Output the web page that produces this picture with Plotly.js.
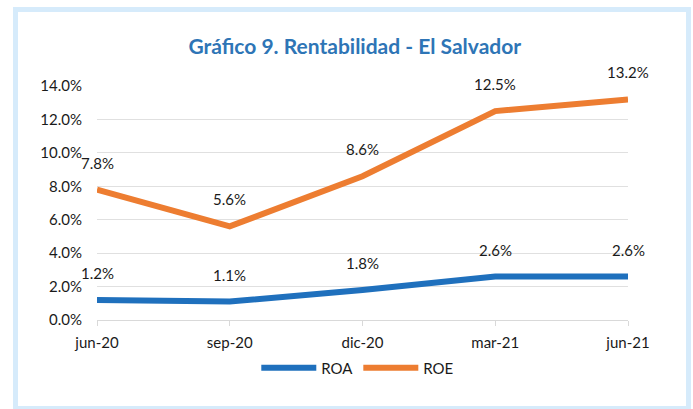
<!DOCTYPE html>
<html>
<head>
<meta charset="utf-8">
<script src="https://cdn.plot.ly/plotly-3.0.1.min.js"></script>
<style>
  html, body { margin: 0; padding: 0; background: #ffffff; overflow: hidden; }
  #frame { position: absolute; left: 13px; top: 7px; width: 668px; height: 394px; border: 5px solid #d6ebfb; box-sizing: content-box; }
  #chart { position: absolute; left: 0; top: 0; width: 693px; height: 409px; }
</style>
</head>
<body>
<div id="frame"></div>
<div id="chart"></div>
<script>
const categories = ["jun-20", "sep-20", "dic-20", "mar-21", "jun-21"];
const roa = [1.2, 1.1, 1.8, 2.6, 2.6];
const roe = [7.8, 5.6, 8.6, 12.5, 13.2];
const yTickVals = [0, 2, 4, 6, 8, 10, 12, 14];
const yTickText = ["0.0%", "2.0%", "4.0%", "6.0%", "8.0%", "10.0%", "12.0%", "14.0%"];

const FONT = "Lato, 'Open Sans', sans-serif";
const BLUE = "#1f70bd";
const ORANGE = "#ed7d31";

const fmt = v => v.toFixed(1) + "%";

const traces = [
  { x: categories, y: roa, name: "ROA", type: "scatter", mode: "lines",
    line: { color: BLUE, width: 6 }, hoverinfo: "skip" },
  { x: categories, y: roe, name: "ROE", type: "scatter", mode: "lines",
    line: { color: ORANGE, width: 6 }, hoverinfo: "skip" }
];

const annotations = [];
[roa, roe].forEach(series => {
  series.forEach((v, i) => {
    annotations.push({ x: categories[i], y: v, xref: "x", yref: "y", text: fmt(v),
      showarrow: false, yshift: 27, font: { family: FONT, size: 15, color: "#1a1a1a" } });
  });
});

const layout = {
  width: 693, height: 409,
  margin: { l: 97, r: 65, t: 86, b: 89 },
  paper_bgcolor: "rgba(0,0,0,0)",
  plot_bgcolor: "rgba(0,0,0,0)",
  font: { family: FONT, size: 15, color: "#1a1a1a" },
  title: { text: "<b>Gráfico 9. Rentabilidad - El Salvador</b>", x: 0.512, xanchor: "center", y: 0.885, yanchor: "middle",
    font: { family: FONT, size: 21, color: "#2e75b6" } },
  xaxis: { type: "category", range: [0, 4], showgrid: false, zeroline: false,
    showline: true, linecolor: "#d9d9d9", linewidth: 1,
    ticks: "outside", ticklen: 5, tickcolor: "#d9d9d9", tickwidth: 1,
    ticklabelstandoff: 4,
    tickfont: { family: FONT, size: 15, color: "#1a1a1a" }, fixedrange: true },
  yaxis: { range: [0, 14], tickvals: yTickVals, ticktext: yTickText,
    showgrid: true, gridcolor: "#e0e0e0", gridwidth: 1, zeroline: false,
    showline: false, ticks: "", ticklabelstandoff: 14,
    tickfont: { family: FONT, size: 15, color: "#1a1a1a" }, fixedrange: true },
  showlegend: true,
  legend: { orientation: "h", x: 0.3, xanchor: "left", y: -0.205, yanchor: "middle",
    font: { family: FONT, size: 15, color: "#1a1a1a" }, itemwidth: 55, bgcolor: "rgba(0,0,0,0)" },
  annotations: annotations
};

Plotly.newPlot("chart", traces, layout, { displayModeBar: false, staticPlot: true });
</script>
</body>
</html>
